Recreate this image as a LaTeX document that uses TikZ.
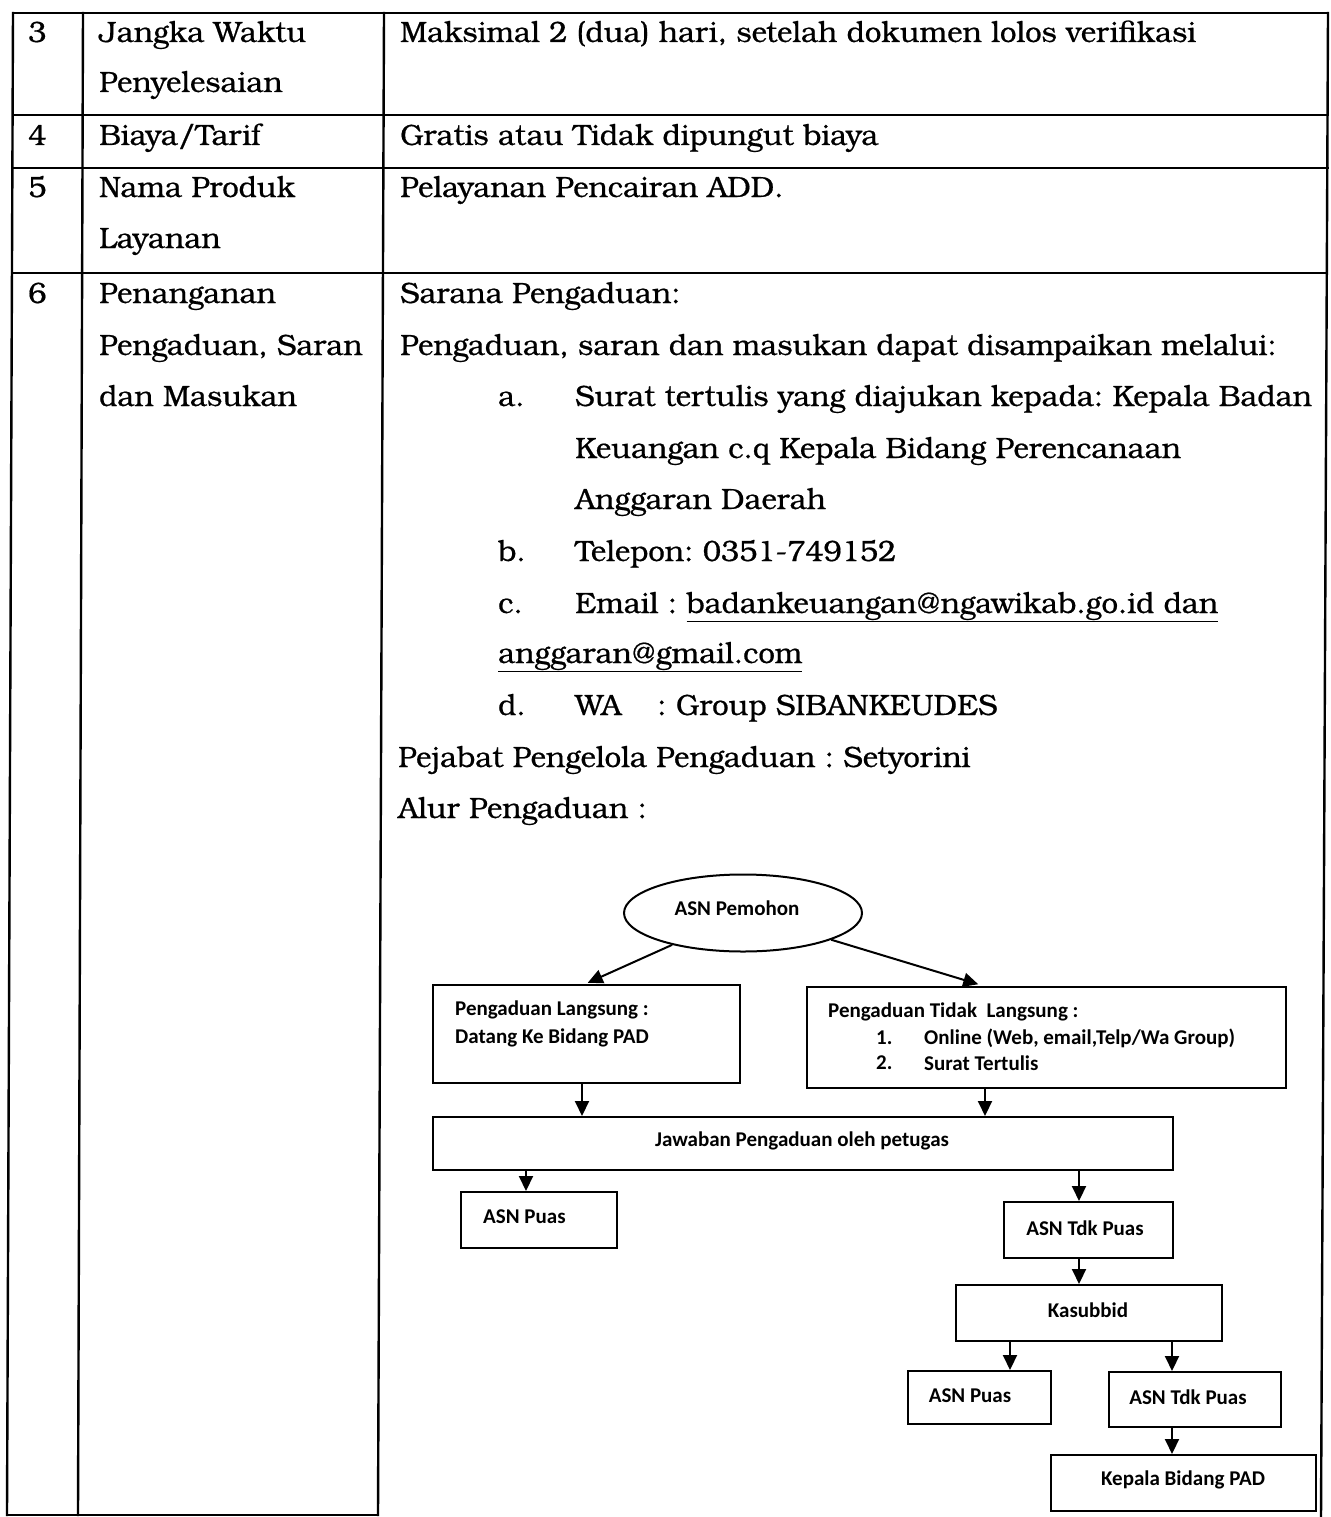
\documentclass[tikz,border=0pt]{standalone}
\usepackage{fontspec}
\setmainfont[FakeBold=0.6]{TeX Gyre Bonum}
\newfontfamily\flowfont{Carlito}
\usetikzlibrary{shapes.geometric,arrows.meta}
\frenchspacing

\begin{document}
\begin{tikzpicture}[x=1pt,y=-1pt,
  rule/.style={line width=2.4pt, line cap=rect},
  cell/.style={anchor=base west, inner sep=0pt, font=\fontsize{29.3}{29.3}\selectfont},
  fbox/.style={draw, line width=2pt, inner sep=0pt},
  ftext/.style={inner sep=0pt, font=\flowfont\bfseries\fontsize{21}{21}\selectfont},
  fleft/.style={ftext, anchor=west},
  arr/.style={line width=2pt, -{Triangle[length=15pt,width=14pt]}}
]
\useasboundingbox (0,0) rectangle (1330,1517);

% table rules
\draw[rule] (13,13) -- (1328,13);
\draw[rule] (13,115) -- (1328,115);
\draw[rule] (13,168) -- (1328,168);
\draw[rule] (12,273) -- (1327,273);
\draw[rule] (13,13) -- (7,1515);
\draw[rule] (83,13) -- (78,1515);
\draw[rule] (384,13) -- (378,1515);
\draw[rule] (1328,13) -- (1321,1517);
\draw[rule] (7,1515) -- (378,1515);

% row 3
\node[cell] (r3n) at (28,42) {3};
\node[cell] (r3a) at (99,42) {Jangka Waktu};
\node[cell] (r3b) at (99,92) {Penyelesaian};
\node[cell] (r3c) at (400,42) {Maksimal 2 (dua) hari, setelah dokumen lolos verifikasi};
% row 4
\node[cell] (r4n) at (28,145) {4};
\node[cell] (r4a) at (99,145) {Biaya/Tarif};
\node[cell] (r4c) at (400,145) {Gratis atau Tidak dipungut biaya};
% row 5
\node[cell] (r5n) at (28,197) {5};
\node[cell] (r5a) at (99,197) {Nama Produk};
\node[cell] (r5b) at (99,248) {Layanan};
\node[cell] (r5c) at (400,197) {Pelayanan Pencairan ADD.};
% row 6
\node[cell] (r6n) at (28,303) {6};
\node[cell] (r6a) at (99,303) {Penanganan};
\node[cell] (r6b) at (99,355) {Pengaduan, Saran};
\node[cell] (r6c) at (99,406) {dan Masukan};

\node[cell] (s1) at (400,303) {Sarana Pengaduan:};
\node[cell] (s2) at (400,355) {Pengaduan, saran dan masukan dapat disampaikan melalui:};
\node[cell] (la) at (498,406) {a.};
\node[cell] (ta1) at (575,406) {Surat tertulis yang diajukan kepada: Kepala Badan};
\node[cell] (ta2) at (575,458) {Keuangan c.q Kepala Bidang Perencanaan};
\node[cell] (ta3) at (575,509) {Anggaran Daerah};
\node[cell] (lb) at (498,561) {b.};
\node[cell] (tb) at (575,561) {Telepon: 0351-749152};
\node[cell] (lc) at (498,613) {c.};
\node[cell] (tc1) at (575,613) {Email : \underline{badankeuangan@ngawikab.go.id dan}};
\node[cell] (tc2) at (498,663) {\underline{anggaran@gmail.com}};
\node[cell] (ld) at (498,715) {d.};
\node[cell] (td1) at (575,715) {WA};
\node[cell] (td2) at (657,715) {: Group SIBANKEUDES};
\node[cell] (pj) at (398,767) {Pejabat Pengelola Pengaduan : Setyorini};
\node[cell] (al) at (398,818) {Alur Pengaduan :};

% flow of complaints
\node[draw, ellipse, line width=2pt, minimum width=238pt, minimum height=77pt, inner sep=0pt] (E) at (743,913) {};
\node[ftext] (Et) at (737,908) {ASN Pemohon};

\node[fbox, minimum width=307pt, minimum height=98pt] (L) at (586.5,1034) {};
\node[fleft] (Lt1) at (455,1010) {Pengaduan Langsung :};
\node[fleft] (Lt2) at (455,1038) {Datang Ke Bidang PAD};

\node[fbox, minimum width=479pt, minimum height=101pt] (R) at (1046.5,1037.5) {};
\node[fleft] (Rt1) at (828,1012) {Pengaduan Tidak\ \ Langsung :};
\node[fleft] (Rn1) at (876,1038) {1.};
\node[fleft] (Rt2) at (924,1038) {Online (Web, email,Telp/Wa Group)};
\node[fleft] (Rn2) at (876,1063) {2.};
\node[fleft] (Rt3) at (924,1063) {Surat Tertulis};

\node[fbox, minimum width=740pt, minimum height=53pt] (J) at (803,1143.5) {};
\node[ftext] (Jt) at (802,1141) {Jawaban Pengaduan oleh petugas};

\node[fbox, minimum width=156pt, minimum height=56pt] (P1) at (539,1220) {};
\node[fleft] (P1t) at (483,1217) {ASN Puas};

\node[fbox, minimum width=169pt, minimum height=56pt] (T1) at (1088.5,1230) {};
\node[ftext] (T1t) at (1085,1228) {ASN Tdk Puas};

\node[fbox, minimum width=266pt, minimum height=56pt] (K) at (1089,1313) {};
\node[ftext] (Kt) at (1088,1310) {Kasubbid};

\node[fbox, minimum width=143pt, minimum height=53pt] (P2) at (979.5,1397.5) {};
\node[ftext] (P2t) at (970,1396) {ASN Puas};

\node[fbox, minimum width=172pt, minimum height=55pt] (T2) at (1195,1399.5) {};
\node[ftext] (T2t) at (1188,1397) {ASN Tdk Puas};

\node[fbox, minimum width=265pt, minimum height=56pt] (KB) at (1183.5,1483) {};
\node[ftext] (KBt) at (1183,1480) {Kepala Bidang PAD};

% arrow columns
\coordinate (xa) at (585,0);
\coordinate (xb) at (984,0);
\coordinate (xc) at (582,0);
\coordinate (xd) at (985,0);
\coordinate (xe) at (526,0);
\coordinate (xf) at (1079,0);
\coordinate (xg) at (1010,0);
\coordinate (xh) at (1172,0);

\draw[arr, shorten >=3pt] (E) -- (L.north -| xa);
\draw[arr, shorten >=6pt] (E) -- (R.north -| xb);
\draw[arr] (L.south -| xc) -- (J.north -| xc);
\draw[arr] (R.south -| xd) -- (J.north -| xd);
\draw[arr] (J.south -| xe) -- (P1.north -| xe);
\draw[arr] (J.south -| xf) -- (T1.north -| xf);
\draw[arr] (T1.south -| xf) -- (K.north -| xf);
\draw[arr] (K.south -| xg) -- (P2.north -| xg);
\draw[arr] (K.south -| xh) -- (T2.north -| xh);
\draw[arr] (T2.south -| xh) -- (KB.north -| xh);
\end{tikzpicture}
\end{document}
